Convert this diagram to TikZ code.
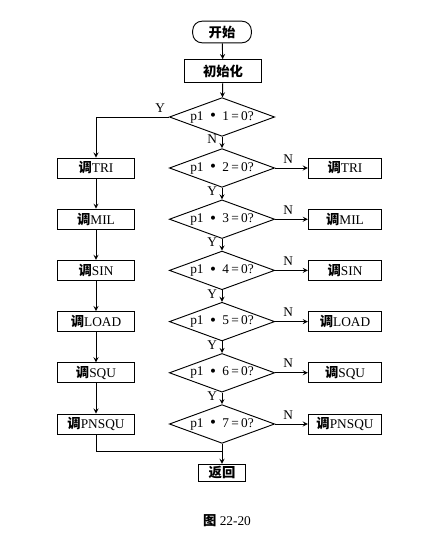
\documentclass[tikz,border=0pt]{standalone}
\usepackage{fontspec}
\setmainfont{Liberation Serif}
\newfontfamily\cjk{Noto Sans CJK SC}
\usetikzlibrary{shapes.geometric}
\newcommand{\tiao}[1]{{\cjk\bfseries 调}#1}
\newcommand{\ptest}[1]{p1\enspace\raisebox{0.35ex}{\scriptsize$\bullet$}\enspace#1\,=\,0?}
\begin{document}
\begin{tikzpicture}[x=0.75pt,y=-0.75pt,>=stealth,font=\normalsize]
        % Styles
        \tikzstyle{process}=[draw,line width=0.7pt,rectangle,minimum width=58pt,minimum height=15pt,inner sep=1pt]
        \tikzstyle{side box}=[draw,line width=0.7pt,rectangle,minimum width=55pt,minimum height=15pt,inner sep=1pt]
        \tikzstyle{test}=[draw,line width=0.7pt,diamond,aspect=2.7,inner sep=0pt,minimum width=79pt,minimum height=29pt]
        \tikzstyle{flow}=[line width=0.7pt]
        \useasboundingbox (0,0) rectangle (433,534);
        %top
        \node[draw,line width=0.7pt,rounded corners=7pt,minimum width=44pt,minimum height=14pt] (start) at (222,32) {\cjk\bfseries 开始};
        \node[process,minimum height=17pt] (init) at (223,71) {\cjk\bfseries 初始化};
        \node[test] (d1) at (222,117) {\ptest{1}};
        %tests and calls
        \foreach \i/\name in {2/TRI,3/MIL,4/SIN,5/LOAD,6/SQU,7/PNSQU}
        {
            \node[test] (d\i) at (222,{168+(\i-2)*51.2}) {\ptest{\i}};
            \node[process] (l\i) at (96,{168+(\i-2)*51.2}) {\tiao{\name}};
            \node[side box] (r\i) at (345,{168+(\i-2)*51.2}) {\tiao{\name}};
            \draw[flow,->] (d\i.east) -- (r\i.west) node[pos=0.4,above] {N};
        }
        \node[process,minimum width=35pt,minimum height=13pt] (ret) at (222,473) {\cjk\bfseries 返回};
        %connectors
        \draw[flow,->] (start) -- (init);
        \draw[flow,->] (init) -- (d1);
        \draw[flow,->] (d1.south) -- (d2.north) node[pos=0.2,left] {N};
        \draw[flow,->] (d1.west) -| (l2.north) node[pos=0.06,above] {Y};
        \foreach \i/\j in {2/3,3/4,4/5,5/6,6/7}
        {
            \draw[flow,->] (d\i.south) -- (d\j.north) node[pos=0.3,left] {Y};
            \draw[flow,->] (l\i) -- (l\j);
        }
        \coordinate (join) at (222,451);
        \draw[flow] (l7.south) |- (join);
        \draw[flow,->] (d7.south) -- (ret);
        %caption
        \node (caption) at (227,521) {{\cjk\bfseries 图} 22-20};
\end{tikzpicture}
\end{document}
